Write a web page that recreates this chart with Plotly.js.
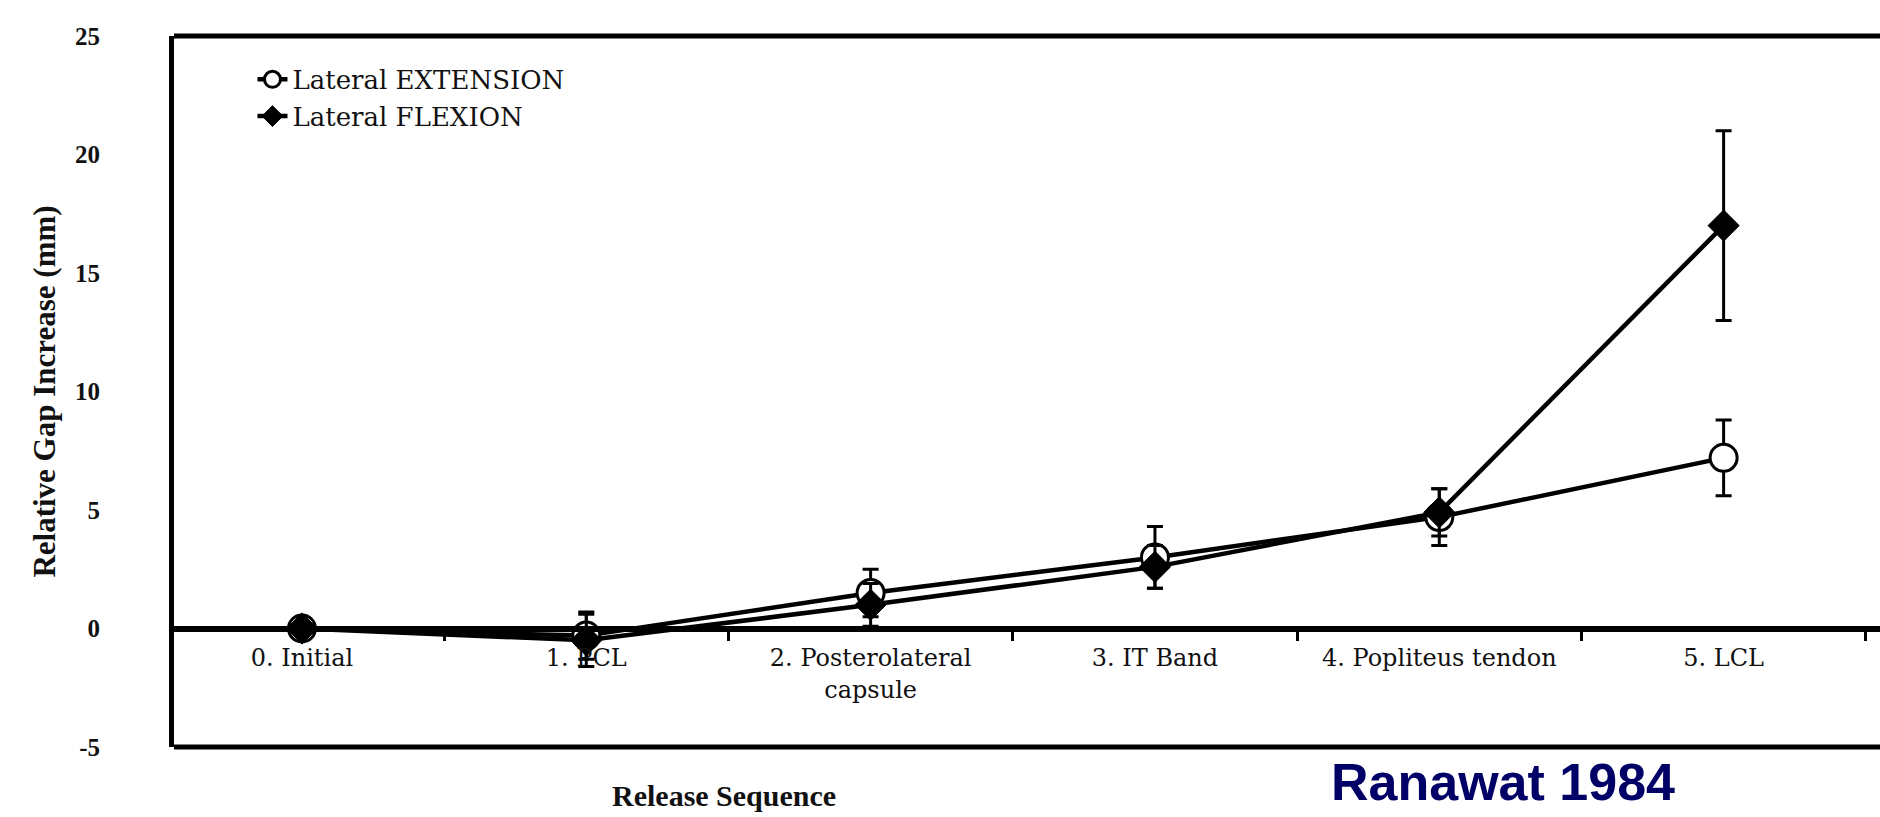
<!DOCTYPE html>
<html>
<head>
<meta charset="utf-8">
<script src="https://cdn.plot.ly/plotly-3.0.1.min.js"></script>
<style>
  html, body { margin: 0; padding: 0; background: #ffffff; }
  #chart { width: 1880px; height: 817px; }
</style>
</head>
<body>
<div id="chart"></div>
<script>
// Release sequence categories (x tick labels)
const categories = ["0. Initial", "1. PCL", "2. Posterolateral<br>capsule", "3. IT Band", "4. Popliteus tendon", "5. LCL"];

// Lateral EXTENSION: mean relative gap increase (mm) and error
const extensionValues = [0, -0.3, 1.5, 3.0, 4.7, 7.2];
const extensionError  = [0, 1.0, 1.0, 1.3, 1.2, 1.6];

// Lateral FLEXION: mean relative gap increase (mm) and error
const flexionValues = [0, -0.5, 1.0, 2.6, 4.9, 17.0];
const flexionError  = [0, 1.1, 0.9, 0.9, 1.0, 4.0];

// Y tick values
const yTicks = [-5, 0, 5, 10, 15, 20, 25];

const traces = [
  {
    name: "Lateral EXTENSION",
    x: categories,
    y: extensionValues,
    type: "scatter",
    mode: "lines+markers",
    line: { color: "#000000", width: 4.5 },
    marker: { symbol: "circle", size: 27, color: "#ffffff", line: { color: "#000000", width: 3 } },
    error_y: { type: "data", array: extensionError, visible: true, color: "#000000", thickness: 3, width: 8 }
  },
  {
    name: "Lateral FLEXION",
    x: categories,
    y: flexionValues,
    type: "scatter",
    mode: "lines+markers",
    line: { color: "#000000", width: 4.5 },
    marker: { symbol: "diamond", size: 24, color: "#000000", line: { color: "#000000", width: 1 } },
    error_y: { type: "data", array: flexionError, visible: true, color: "#000000", thickness: 3, width: 8 }
  }
];

const layout = {
  width: 1880,
  height: 817,
  margin: { l: 174, r: 0, t: 36, b: 70 },
  paper_bgcolor: "#ffffff",
  plot_bgcolor: "#ffffff",
  showlegend: true,
  legend: {
    x: 0.046, y: 0.972, xanchor: "left", yanchor: "top",
    bgcolor: "rgba(0,0,0,0)", borderwidth: 0,
    font: { family: "DejaVu Serif", size: 26, color: "#111111" },
    itemwidth: 30
  },
  xaxis: {
    type: "category",
    range: [-0.45, 5.55],
    anchor: "free",
    position: 5 / 30,
    showline: true, linecolor: "#000000", linewidth: 6,
    ticks: "outside", tickson: "boundaries", ticklen: 9, tickwidth: 3, tickcolor: "#000000",
    ticklabelstandoff: 6,
    tickfont: { family: "DejaVu Serif", size: 24, color: "#111111" },
    showgrid: false, zeroline: false, fixedrange: true
  },
  yaxis: {
    range: [-5, 25],
    tickvals: yTicks,
    ticktext: yTicks.map(String),
    ticks: "", ticklabelstandoff: 64,
    tickfont: { family: "Liberation Serif", size: 25, color: "#111111", weight: "bold" },
    showline: true, linecolor: "#000000", linewidth: 5,
    showgrid: false, zeroline: false,
    title: { text: "Relative Gap Increase (mm)", font: { family: "Liberation Serif", size: 31, color: "#111111", weight: "bold" }, standoff: 12 }
  },
  shapes: [
    { type: "line", xref: "paper", yref: "paper", x0: 0, x1: 1, y0: 1, y1: 1, line: { color: "#000000", width: 5 } },
    { type: "line", xref: "paper", yref: "paper", x0: 0, x1: 1, y0: 0, y1: 0, line: { color: "#000000", width: 5 } }
  ],
  annotations: [
    {
      text: "Release Sequence", xref: "paper", yref: "paper",
      x: (724 - 174) / 1706, y: -(795 - 747) / 711, xanchor: "center", yanchor: "middle",
      showarrow: false,
      font: { family: "Liberation Serif", size: 30, color: "#111111", weight: "bold" }
    },
    {
      text: "Ranawat 1984", xref: "paper", yref: "paper",
      x: (1330 - 174) / 1706, y: -(752 - 747) / 711, xanchor: "left", yanchor: "top",
      showarrow: false, borderpad: 0,
      font: { family: "Liberation Sans", size: 52, color: "#000066", weight: "bold" }
    }
  ]
};

Plotly.newPlot("chart", traces, layout, { displayModeBar: false, staticPlot: true });
</script>
</body>
</html>
